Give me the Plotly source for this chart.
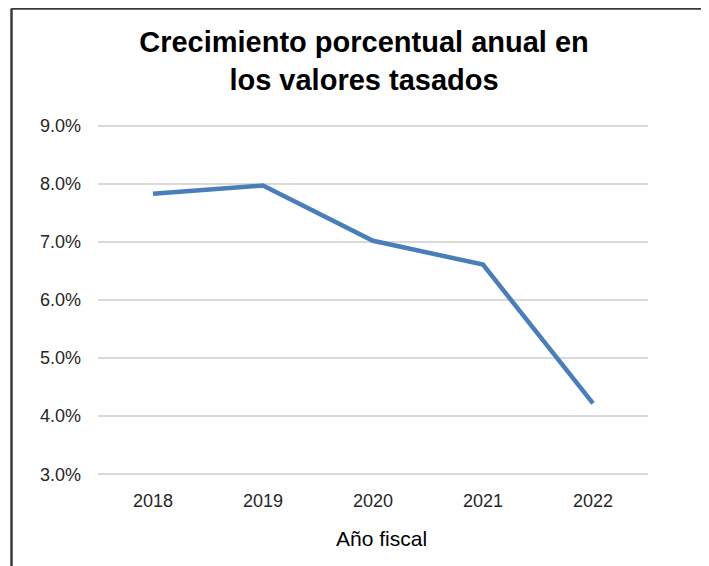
import plotly.graph_objects as go

## data
anios = ["2018", "2019", "2020", "2021", "2022"]
crecimiento = [7.83, 7.97, 7.02, 6.61, 4.22]

titulo = "<b>Crecimiento porcentual anual en<br>los valores tasados</b>"
titulo_x = "Año fiscal"

## the page body adds an 8px offset, so the figure is 8px smaller
W, H = 701, 558
ml, mr, mt, mb = 90, 61, 116, 90
pw, ph = W - ml - mr, H - mt - mb

## main plot
fig = go.Figure()
fig.add_trace(go.Scatter(x=anios, y=crecimiento, mode="lines",
                         line=dict(color="#4A7EBB", width=4.5), showlegend=False))

fig.update_layout(
    width=W, height=H,
    margin=dict(l=ml, r=mr, t=mt, b=mb),
    paper_bgcolor="white", plot_bgcolor="white",
    font=dict(family="Liberation Sans, Arial", size=18, color="#262626"),
    title=dict(text=titulo, x=356 / W, xref="container", xanchor="center",
               y=1 - 44 / H, yanchor="top",
               font=dict(size=29, color="black")),
)

fig.update_xaxes(type="category", range=[-0.5, 4.5], showgrid=False, showline=False,
                 ticks="", ticklabelstandoff=12)
fig.update_yaxes(range=[2.97, 9.03], tickmode="linear", tick0=3, dtick=1,
                 tickformat=".1f", ticksuffix="%",
                 showgrid=True, gridcolor="#D9D9D9", gridwidth=1.5,
                 zeroline=False, showline=False, ticks="", ticklabelstandoff=16)

## axis title
fig.add_annotation(text=titulo_x, xref="paper", yref="paper",
                   x=(373 - ml) / pw, y=-(530 - H + mb) / ph,
                   xanchor="center", yanchor="middle", showarrow=False,
                   font=dict(size=21, color="black"))

## border around chart (left, top, right)
x0 = (3.5 - ml) / pw
x1 = (698 - ml) / pw
ytop = (H - mb - 0.5) / ph
ybot = -mb / ph - 0.1
for sx0, sy0, sx1, sy1 in [(x0, ybot, x0, ytop), (x0, ytop, x1, ytop), (x1, ytop, x1, ybot)]:
    fig.add_shape(type="line", xref="paper", yref="paper", x0=sx0, y0=sy0, x1=sx1, y1=sy1,
                  line=dict(color="#3A3A3A", width=2.5))

fig.write_html("out.html")
